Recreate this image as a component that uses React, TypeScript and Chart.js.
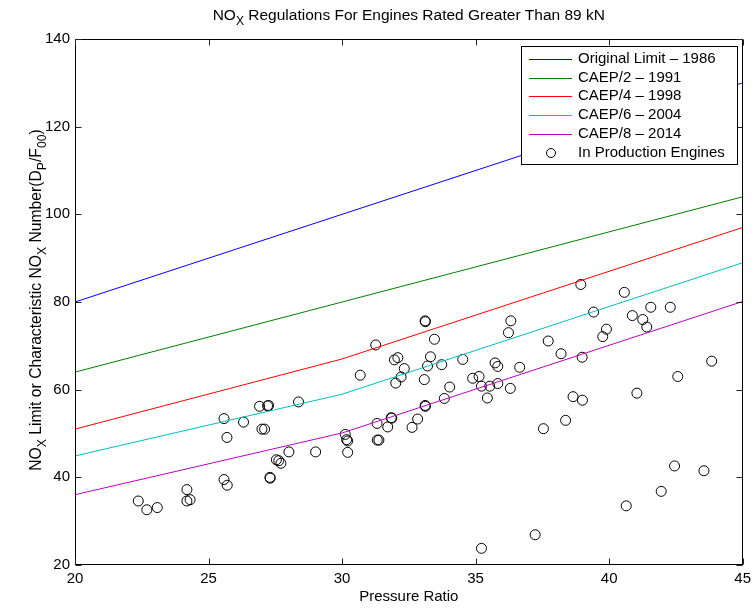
import { useEffect, useRef } from "react";
import { Chart, registerables } from "chart.js";

Chart.register(...registerables);

const FONT = "'Liberation Sans', Arial, Helvetica, sans-serif";

// Regulation limit lines (pressure ratio -> limit)
const limitRatio = [20, 30, 45];
const original1986 = [80, 100, 130];
const caep2 = [64, 80, 104];
const caep4 = [51, 67, 97];
const caep6 = [44.88, 58.96, 88.96];
const caep8 = [36.04, 50.12, 80.12];

const seriesNames = [
  "Original Limit \u2013 1986",
  "CAEP/2 \u2013 1991",
  "CAEP/4 \u2013 1998",
  "CAEP/6 \u2013 2004",
  "CAEP/8 \u2013 2014",
];
const seriesColors = ["#0000ff", "#008000", "#ff0000", "#00bfbf", "#bf00bf"];
const engineLabel = "In Production Engines";

// In production engines
const engineRatio = [
  22.37, 22.69, 23.08, 24.19, 24.19, 24.31, 25.58, 25.69, 25.58, 25.7,
  26.31, 26.91, 27.21, 27.25, 27.0, 27.1, 27.3, 27.31, 27.54, 27.63,
  27.71, 28.01, 28.37, 29.01, 30.12, 30.17, 30.21, 30.21, 30.68, 31.26,
  31.31, 31.32, 31.38, 31.71, 31.84, 31.86, 31.96, 32.09, 32.01, 32.21,
  32.33, 32.62, 32.83, 33.11, 33.12, 33.08, 33.11, 33.12, 33.2, 33.31,
  33.46, 33.73, 33.83, 34.03, 34.52, 34.89, 35.13, 35.22, 35.22, 35.44,
  35.53, 35.73, 35.83, 35.83, 36.23, 36.32, 36.3, 36.65, 37.23, 37.54,
  37.72, 38.2, 38.37, 38.65, 38.94, 38.99, 39.0, 39.42, 39.76, 39.9,
  40.57, 40.64, 40.87, 41.04, 41.26, 41.41, 41.56, 41.95, 42.29, 42.45,
  42.57, 43.55, 43.84,
];
const engineNox = [
  34.6, 32.6, 33.1, 37.2, 34.6, 34.9, 53.4, 49.1, 39.5, 38.2,
  52.6, 56.2, 56.3, 56.4, 51.0, 51.0, 40.0, 39.8, 44.0, 43.8,
  43.2, 45.8, 57.2, 45.8, 49.8, 48.6, 48.3, 45.7, 63.3, 70.2,
  52.3, 48.5, 48.5, 51.5, 53.6, 53.5, 66.8, 67.3, 61.5, 62.9,
  64.8, 51.4, 53.3, 75.7, 75.5, 62.3, 56.4, 56.2, 65.4, 67.5,
  71.5, 65.7, 58.0, 60.6, 66.9, 62.6, 63.0, 60.8, 23.8, 58.1,
  60.8, 66.1, 65.3, 61.4, 73.0, 75.7, 60.3, 65.1, 26.9, 51.1,
  71.1, 68.2, 53.0, 58.4, 84.0, 67.4, 57.6, 77.7, 72.1, 73.8,
  82.2, 33.5, 76.9, 59.2, 76.0, 74.3, 78.8, 36.8, 78.8, 42.6,
  63.0, 41.5, 66.5,
];

const xTicks = [20, 25, 30, 35, 40, 45];
const yTicks = [20, 40, 60, 80, 100, 120, 140];

const titleSegs = [
  { t: "NO", sub: false },
  { t: "X", sub: true },
  { t: " Regulations For Engines Rated Greater Than 89 kN", sub: false },
];
const xLabel = "Pressure Ratio";
const yLabelSegs = [
  { t: "NO", sub: false },
  { t: "X", sub: true },
  { t: " Limit or Characteristic NO", sub: false },
  { t: "X", sub: true },
  { t: " Number(D", sub: false },
  { t: "P", sub: true },
  { t: "/F", sub: false },
  { t: "00", sub: true },
  { t: ")", sub: false },
];

type Seg = { t: string; sub: boolean };

function drawRich(ctx: CanvasRenderingContext2D, segs: Seg[], cx: number, cy: number, size: number) {
  const subSize = size * 0.78;
  let total = 0;
  const widths = segs.map((s) => {
    ctx.font = `${s.sub ? subSize : size}px ${FONT}`;
    const w = ctx.measureText(s.t).width;
    total += w;
    return w;
  });
  let x = cx - total / 2;
  ctx.textAlign = "left";
  ctx.textBaseline = "middle";
  segs.forEach((s, i) => {
    ctx.font = `${s.sub ? subSize : size}px ${FONT}`;
    ctx.fillText(s.t, x, s.sub ? cy + size * 0.35 : cy);
    x += widths[i];
  });
}

const decorPlugin = {
  id: "decor",
  afterDraw(chart: any) {
    const { ctx, chartArea: a, scales } = chart;
    ctx.save();
    // frame
    ctx.strokeStyle = "#000";
    ctx.lineWidth = 1;
    const L = Math.round(a.left) + 0.5;
    const R = Math.round(a.right) - 0.5;
    const T = Math.round(a.top) + 0.5;
    const B = Math.round(a.bottom) - 0.5;
    ctx.strokeRect(L, T, R - L, B - T);
    // ticks inward
    const tl = 6;
    ctx.strokeStyle = "#262626";
    ctx.beginPath();
    xTicks.forEach((v) => {
      const px = Math.round(scales.x.getPixelForValue(v)) + 0.5;
      ctx.moveTo(px, B);
      ctx.lineTo(px, B - tl);
      ctx.moveTo(px, T);
      ctx.lineTo(px, T + tl);
    });
    yTicks.forEach((v) => {
      const py = Math.round(scales.y.getPixelForValue(v)) + 0.5;
      ctx.moveTo(L, py);
      ctx.lineTo(L + tl, py);
      ctx.moveTo(R, py);
      ctx.lineTo(R - tl, py);
    });
    ctx.stroke();

    // title & axis labels
    ctx.fillStyle = "#000";
    const midX = (a.left + a.right) / 2;
    const midY = (a.top + a.bottom) / 2;
    drawRich(ctx, titleSegs, midX, 16, 15.5);
    ctx.font = `15px ${FONT}`;
    ctx.textAlign = "center";
    ctx.textBaseline = "middle";
    ctx.fillText(xLabel, midX, 597);
    ctx.save();
    ctx.translate(37, midY - 2);
    ctx.rotate(-Math.PI / 2);
    drawRich(ctx, yLabelSegs, 0, 0, 15.7);
    ctx.restore();

    // legend
    const bx = 521.5, by = 46.5, bw = 216, bh = 118;
    ctx.fillStyle = "#fff";
    ctx.fillRect(bx, by, bw, bh);
    ctx.strokeStyle = "#000";
    ctx.lineWidth = 1;
    ctx.strokeRect(bx, by, bw, bh);
    const rowY = [58.5, 77.5, 96, 115, 134, 153];
    ctx.font = `15px ${FONT}`;
    ctx.textAlign = "left";
    ctx.textBaseline = "middle";
    seriesNames.forEach((n, i) => {
      ctx.strokeStyle = seriesColors[i];
      ctx.beginPath();
      ctx.moveTo(529, Math.round(rowY[i]) + 0.5);
      ctx.lineTo(572, Math.round(rowY[i]) + 0.5);
      ctx.stroke();
      ctx.fillStyle = "#000";
      ctx.fillText(n, 578, rowY[i]);
    });
    ctx.strokeStyle = "#000";
    ctx.beginPath();
    ctx.arc(551, rowY[5], 4.5, 0, Math.PI * 2);
    ctx.stroke();
    ctx.fillStyle = "#000";
    ctx.fillText(engineLabel, 578, rowY[5]);
    ctx.restore();
  },
};

export default function App() {
  const ref = useRef<HTMLCanvasElement>(null);
  useEffect(() => {
    if (!ref.current) return;
    const lines = [original1986, caep2, caep4, caep6, caep8].map((vals, i) => ({
      label: seriesNames[i],
      data: limitRatio.map((x, j) => ({ x, y: vals[j] })),
      showLine: true,
      borderColor: seriesColors[i],
      backgroundColor: seriesColors[i],
      borderWidth: 1,
      pointRadius: 0,
      fill: false,
      tension: 0,
    }));
    const engines = {
      label: engineLabel,
      data: engineRatio.map((x, i) => ({ x, y: engineNox[i] })),
      showLine: false,
      pointStyle: "circle" as const,
      pointRadius: 5,
      pointBorderWidth: 1,
      borderColor: "#000",
      backgroundColor: "rgba(0,0,0,0)",
      pointBackgroundColor: "rgba(0,0,0,0)",
      pointBorderColor: "#000",
    };
    const tickFont = { family: FONT, size: 15 };
    const chart = new Chart(ref.current, {
      type: "scatter",
      data: { datasets: [...lines, engines] as any },
      options: {
        animation: false,
        responsive: false,
        maintainAspectRatio: false,
        layout: { padding: { top: 39, right: 13, left: 0, bottom: 0 } },
        plugins: {
          legend: { display: false },
          title: { display: false },
          tooltip: { enabled: false },
        },
        scales: {
          x: {
            type: "linear",
            min: 20,
            max: 45,
            afterFit: (s: any) => {
              s.height = 43;
            },
            grid: { display: false, drawTicks: false, tickLength: 0 },
            border: { display: false },
            ticks: {
              stepSize: 5,
              color: "#000",
              font: tickFont,
              padding: 5,
              maxRotation: 0,
              autoSkip: false,
            },
          },
          y: {
            type: "linear",
            min: 20,
            max: 140,
            afterFit: (s: any) => {
              s.width = 75;
            },
            grid: { display: false, drawTicks: false, tickLength: 0 },
            border: { display: false },
            ticks: {
              stepSize: 20,
              color: "#000",
              font: tickFont,
              padding: 5,
              autoSkip: false,
            },
          },
        },
      },
      plugins: [decorPlugin],
    });
    return () => chart.destroy();
  }, []);
  return (
    <div style={{ position: "absolute", left: 0, top: 0, width: 756, height: 608, background: "#fff" }}>
      <canvas ref={ref} width={756} height={608} style={{ display: "block", width: 756, height: 608 }} />
    </div>
  );
}
